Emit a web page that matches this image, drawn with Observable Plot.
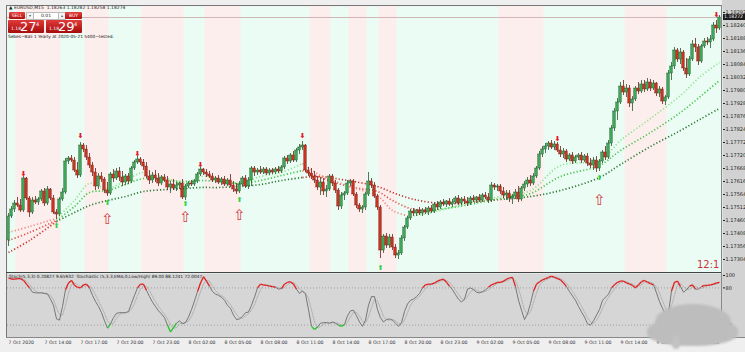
<!DOCTYPE html>
<html><head><meta charset="utf-8">
<script src="https://cdn.jsdelivr.net/npm/d3@7"></script>
<script src="https://cdn.jsdelivr.net/npm/@observablehq/plot@0.6"></script>
<style>
body{margin:0;background:#efefef;font-family:"DejaVu Sans",sans-serif;}
#wrap{position:relative;width:745px;height:352px;overflow:hidden;background:#efefef;}
.abs{position:absolute;}
.btn{position:absolute;background:linear-gradient(#e84040,#b01010);color:#fff;font-size:4.5px;line-height:7px;text-align:center;border-radius:1px;}
.sm{position:absolute;background:#f4f4f4;border:0.5px solid #bbb;color:#555;font-size:4px;line-height:6px;text-align:center;}
.lot{position:absolute;background:#fff;border:0.5px solid #bbb;color:#222;font-size:4.5px;line-height:6px;text-align:center;}
.big{position:absolute;background:linear-gradient(#e23a3a,#a50c0c);color:#fff;border-radius:1px;white-space:nowrap;}
.big .s{position:absolute;left:3px;bottom:2px;font-size:4.5px;}
.big .b{position:absolute;left:12px;top:0px;font-size:13px;line-height:13px;}
.big .u{position:absolute;left:28px;top:1px;font-size:5px;}
</style></head>
<body><div id="wrap">
<div class="abs" style="left:722px;top:0;width:23px;height:337px;background:#d2d2d2;"></div>
<div class="abs" style="left:7px;top:273px;width:715px;height:64px;background:#d6d6d6;"></div>
<div class="abs" id="mainHolder" style="left:0;top:0;"></div>
<div class="abs" id="lowHolder" style="left:0;top:273px;"></div>
<div class="abs" style="left:6px;top:5px;width:716px;height:1px;background:#777;"></div>
<div class="abs" style="left:6px;top:5px;width:1px;height:332px;background:#777;"></div>
<div class="abs" style="left:6px;top:272px;width:716px;height:1px;background:#444;"></div>
<div class="abs" style="left:6px;top:337px;width:739px;height:1px;background:#888;"></div>
<div class="abs" style="left:721px;top:5px;width:1px;height:332px;background:#888;"></div>
<div class="abs" style="left:9px;top:5px;font-size:4.5px;color:#222;white-space:nowrap;">▲ EURUSD,M15&nbsp; 1.18263 1.18282 1.18258 1.18274</div>
<div class="btn" style="left:9px;top:12px;width:16px;height:7px;">SELL</div>
<div class="sm" style="left:26px;top:12px;width:6px;height:6px;">▾</div>
<div class="lot" style="left:33px;top:12px;width:24px;height:6px;">0.01</div>
<div class="sm" style="left:58px;top:12px;width:6px;height:6px;">▴</div>
<div class="btn" style="left:65px;top:12px;width:17px;height:7px;">BUY</div>
<div class="big" style="left:8px;top:20px;width:36px;height:13px;"><span class="s">1.18</span><span class="b">27</span><span class="u">4</span></div>
<div class="big" style="left:46px;top:20px;width:36px;height:13px;"><span class="s">1.18</span><span class="b">29</span><span class="u">4</span></div>
<div class="abs" style="left:8px;top:34px;font-size:4.3px;color:#111;white-space:nowrap;">Sebes~Bali 1 Yearly at 2020-05-21 5400~tested.</div>
<div class="abs" style="left:9px;top:274px;font-size:4.3px;color:#222;white-space:nowrap;">Stoch(5,3,3) 0.20827 9.65932&nbsp; Stochastic (5,3,3,EMA,0,Low/High) 89.00 88.1241 72.0047</div>
<div class="abs" style="left:697px;top:259px;font-size:10px;color:#c8343a;">12:1</div>
<div class="abs" style="left:655px;top:304px;width:76px;height:36px;border-radius:50%;background:#bdbdbd;filter:blur(1px);"></div>
<div class="abs" style="left:647px;top:318px;width:91px;height:28px;border-radius:45%;background:#bdbdbd;filter:blur(1px);"></div>
<div class="abs" style="left:672px;top:335px;width:8px;height:14px;border-radius:40%;background:#c2c2c2;filter:blur(1px);"></div>
</div>
<script>
const opens = [
1.17380,1.17476,1.17504,1.17528,1.17520,1.17500,1.17628,1.17548,1.17492,1.17540,
1.17532,1.17544,1.17576,1.17528,1.17584,1.17548,1.17492,1.17484,1.17544,1.17572,
1.17696,1.17708,1.17700,1.17660,1.17640,1.17760,1.17744,1.17712,1.17680,1.17652,
1.17596,1.17636,1.17624,1.17580,1.17568,1.17644,1.17628,1.17656,1.17632,1.17612,
1.17636,1.17616,1.17668,1.17692,1.17704,1.17692,1.17676,1.17636,1.17620,1.17640,
1.17628,1.17608,1.17632,1.17620,1.17592,1.17604,1.17588,1.17600,1.17608,1.17552,
1.17596,1.17608,1.17604,1.17616,1.17644,1.17664,1.17652,1.17644,1.17636,1.17620,
1.17628,1.17612,1.17624,1.17604,1.17620,1.17600,1.17584,1.17576,1.17604,1.17628,
1.17596,1.17620,1.17668,1.17652,1.17660,1.17652,1.17664,1.17648,1.17660,1.17652,
1.17664,1.17656,1.17672,1.17708,1.17696,1.17720,1.17700,1.17740,1.17752,1.17760,
1.17660,1.17648,1.17636,1.17620,1.17592,1.17612,1.17576,1.17584,1.17636,1.17608,
1.17580,1.17516,1.17560,1.17568,1.17608,1.17616,1.17564,1.17520,1.17504,1.17512,
1.17564,1.17616,1.17600,1.17556,1.17512,1.17340,1.17396,1.17360,1.17392,1.17352,
1.17320,1.17328,1.17388,1.17432,1.17468,1.17496,1.17488,1.17500,1.17488,1.17500,
1.17492,1.17508,1.17496,1.17524,1.17512,1.17532,1.17524,1.17536,1.17524,1.17532,
1.17548,1.17528,1.17544,1.17536,1.17528,1.17548,1.17540,1.17552,1.17540,1.17560,
1.17552,1.17540,1.17600,1.17592,1.17596,1.17576,1.17560,1.17568,1.17548,1.17556,
1.17572,1.17544,1.17588,1.17604,1.17620,1.17608,1.17636,1.17668,1.17724,1.17744,
1.17756,1.17768,1.17752,1.17764,1.17740,1.17724,1.17736,1.17704,1.17720,1.17696,
1.17712,1.17720,1.17700,1.17716,1.17688,1.17680,1.17700,1.17668,1.17696,1.17732,
1.17712,1.17768,1.17828,1.17896,1.17932,1.17996,1.17972,1.17988,1.17928,1.17944,
1.17988,1.17976,1.18004,1.17984,1.18012,1.17988,1.18008,1.17968,1.17984,1.17936,
1.17952,1.18048,1.18076,1.18140,1.18104,1.18132,1.18068,1.18044,1.18104,1.18164,
1.18152,1.18096,1.18156,1.18176,1.18172,1.18184,1.18240,1.18228];
const highs = [
1.17488,1.17516,1.17540,1.17552,1.17544,1.17636,1.17632,1.17556,1.17552,1.17556,
1.17552,1.17584,1.17588,1.17596,1.17588,1.17560,1.17504,1.17552,1.17588,1.17708,
1.17716,1.17720,1.17712,1.17692,1.17772,1.17768,1.17760,1.17728,1.17692,1.17668,
1.17648,1.17652,1.17632,1.17612,1.17652,1.17664,1.17668,1.17672,1.17656,1.17644,
1.17648,1.17676,1.17700,1.17716,1.17712,1.17704,1.17692,1.17660,1.17652,1.17660,
1.17648,1.17640,1.17644,1.17636,1.17616,1.17624,1.17612,1.17612,1.17624,1.17604,
1.17616,1.17620,1.17624,1.17652,1.17672,1.17668,1.17664,1.17656,1.17648,1.17636,
1.17640,1.17632,1.17636,1.17628,1.17644,1.17616,1.17608,1.17616,1.17636,1.17640,
1.17632,1.17676,1.17676,1.17668,1.17676,1.17672,1.17672,1.17668,1.17668,1.17672,
1.17676,1.17680,1.17716,1.17720,1.17728,1.17736,1.17748,1.17764,1.17776,1.17764,
1.17672,1.17668,1.17656,1.17636,1.17632,1.17628,1.17600,1.17644,1.17644,1.17620,
1.17588,1.17572,1.17576,1.17620,1.17624,1.17624,1.17572,1.17528,1.17520,1.17572,
1.17652,1.17628,1.17612,1.17564,1.17520,1.17404,1.17408,1.17404,1.17404,1.17364,
1.17340,1.17400,1.17440,1.17476,1.17504,1.17508,1.17504,1.17512,1.17508,1.17512,
1.17516,1.17520,1.17532,1.17536,1.17540,1.17544,1.17540,1.17548,1.17544,1.17556,
1.17560,1.17552,1.17556,1.17552,1.17556,1.17560,1.17556,1.17564,1.17568,1.17572,
1.17568,1.17612,1.17608,1.17604,1.17604,1.17592,1.17580,1.17580,1.17564,1.17584,
1.17596,1.17596,1.17616,1.17632,1.17640,1.17648,1.17676,1.17736,1.17756,1.17768,
1.17776,1.17780,1.17776,1.17772,1.17756,1.17748,1.17744,1.17728,1.17732,1.17720,
1.17728,1.17732,1.17724,1.17728,1.17708,1.17712,1.17716,1.17704,1.17740,1.17756,
1.17780,1.17840,1.17908,1.17948,1.18012,1.18020,1.18004,1.18000,1.17956,1.17996,
1.18012,1.18020,1.18020,1.18028,1.18024,1.18020,1.18012,1.17996,1.17992,1.17960,
1.18060,1.18092,1.18152,1.18148,1.18148,1.18140,1.18108,1.18116,1.18180,1.18188,
1.18164,1.18164,1.18188,1.18192,1.18200,1.18252,1.18260,1.18280];
const lows = [
1.17356,1.17468,1.17492,1.17512,1.17492,1.17492,1.17540,1.17472,1.17484,1.17524,
1.17520,1.17536,1.17516,1.17520,1.17540,1.17484,1.17464,1.17476,1.17536,1.17564,
1.17684,1.17692,1.17652,1.17628,1.17632,1.17732,1.17700,1.17668,1.17636,1.17580,
1.17584,1.17612,1.17568,1.17556,1.17560,1.17612,1.17620,1.17616,1.17596,1.17600,
1.17604,1.17608,1.17660,1.17684,1.17680,1.17660,1.17628,1.17604,1.17608,1.17612,
1.17596,1.17600,1.17612,1.17580,1.17568,1.17580,1.17576,1.17584,1.17544,1.17540,
1.17588,1.17596,1.17596,1.17608,1.17636,1.17640,1.17632,1.17628,1.17612,1.17608,
1.17604,1.17600,1.17596,1.17596,1.17592,1.17572,1.17564,1.17568,1.17596,1.17588,
1.17584,1.17596,1.17636,1.17640,1.17644,1.17644,1.17640,1.17640,1.17644,1.17644,
1.17648,1.17648,1.17664,1.17684,1.17688,1.17692,1.17692,1.17724,1.17740,1.17652,
1.17636,1.17624,1.17608,1.17580,1.17560,1.17560,1.17552,1.17576,1.17596,1.17568,
1.17500,1.17504,1.17540,1.17560,1.17596,1.17556,1.17508,1.17492,1.17488,1.17500,
1.17556,1.17588,1.17548,1.17500,1.17308,1.17328,1.17348,1.17348,1.17340,1.17308,
1.17304,1.17320,1.17376,1.17424,1.17460,1.17476,1.17476,1.17480,1.17476,1.17484,
1.17480,1.17488,1.17488,1.17500,1.17504,1.17516,1.17512,1.17516,1.17512,1.17524,
1.17520,1.17520,1.17524,1.17516,1.17520,1.17532,1.17528,1.17532,1.17532,1.17544,
1.17528,1.17532,1.17580,1.17576,1.17564,1.17548,1.17540,1.17532,1.17524,1.17544,
1.17532,1.17536,1.17576,1.17592,1.17596,1.17600,1.17628,1.17660,1.17712,1.17728,
1.17740,1.17744,1.17740,1.17732,1.17712,1.17708,1.17692,1.17696,1.17684,1.17688,
1.17700,1.17688,1.17692,1.17676,1.17668,1.17660,1.17652,1.17656,1.17688,1.17700,
1.17704,1.17756,1.17816,1.17860,1.17924,1.17960,1.17952,1.17912,1.17896,1.17936,
1.17964,1.17968,1.17972,1.17976,1.17976,1.17980,1.17956,1.17952,1.17924,1.17920,
1.17944,1.18020,1.18064,1.18092,1.18084,1.18056,1.18028,1.18036,1.18096,1.18132,
1.18080,1.18088,1.18148,1.18160,1.18148,1.18176,1.18208,1.18220];
const closes = [
1.17476,1.17504,1.17528,1.17520,1.17500,1.17628,1.17548,1.17492,1.17540,1.17532,
1.17544,1.17576,1.17528,1.17584,1.17548,1.17492,1.17484,1.17544,1.17572,1.17696,
1.17708,1.17700,1.17660,1.17640,1.17760,1.17744,1.17712,1.17680,1.17652,1.17596,
1.17636,1.17624,1.17580,1.17568,1.17644,1.17628,1.17656,1.17632,1.17612,1.17636,
1.17616,1.17668,1.17692,1.17704,1.17692,1.17676,1.17636,1.17620,1.17640,1.17628,
1.17608,1.17632,1.17620,1.17592,1.17604,1.17588,1.17600,1.17608,1.17552,1.17596,
1.17608,1.17604,1.17616,1.17644,1.17664,1.17652,1.17644,1.17636,1.17620,1.17628,
1.17612,1.17624,1.17604,1.17620,1.17600,1.17584,1.17576,1.17604,1.17628,1.17596,
1.17620,1.17668,1.17652,1.17660,1.17652,1.17664,1.17648,1.17660,1.17652,1.17664,
1.17656,1.17672,1.17708,1.17696,1.17720,1.17700,1.17740,1.17752,1.17760,1.17660,
1.17648,1.17636,1.17620,1.17592,1.17612,1.17576,1.17584,1.17636,1.17608,1.17580,
1.17516,1.17560,1.17568,1.17608,1.17616,1.17564,1.17520,1.17504,1.17512,1.17564,
1.17616,1.17600,1.17556,1.17512,1.17340,1.17396,1.17360,1.17392,1.17352,1.17320,
1.17328,1.17388,1.17432,1.17468,1.17496,1.17488,1.17500,1.17488,1.17500,1.17492,
1.17508,1.17496,1.17524,1.17512,1.17532,1.17524,1.17536,1.17524,1.17532,1.17548,
1.17528,1.17544,1.17536,1.17528,1.17548,1.17540,1.17552,1.17540,1.17560,1.17552,
1.17540,1.17600,1.17592,1.17596,1.17576,1.17560,1.17568,1.17548,1.17556,1.17572,
1.17544,1.17588,1.17604,1.17620,1.17608,1.17636,1.17668,1.17724,1.17744,1.17756,
1.17768,1.17752,1.17764,1.17740,1.17724,1.17736,1.17704,1.17720,1.17696,1.17712,
1.17720,1.17700,1.17716,1.17688,1.17680,1.17700,1.17668,1.17696,1.17732,1.17712,
1.17768,1.17828,1.17896,1.17932,1.17996,1.17972,1.17988,1.17928,1.17944,1.17988,
1.17976,1.18004,1.17984,1.18012,1.17988,1.18008,1.17968,1.17984,1.17936,1.17952,
1.18048,1.18076,1.18140,1.18104,1.18132,1.18068,1.18044,1.18104,1.18164,1.18152,
1.18096,1.18156,1.18176,1.18172,1.18184,1.18240,1.18228,1.18272];

// moving averages read at sample bars
const maIdx = [0,7,16,22,27,33,39,45,53,59,64,70,77,84,91,98,104,111,117,123,128,134,141,150,157,164,174,184,197,204,214,224,231,237];
const maFast = [1.17412,1.17436,1.17468,1.17540,1.17608,1.17588,1.17620,1.17652,1.17628,1.17608,1.17636,1.17628,1.17608,1.17636,1.17652,1.17688,1.17640,1.17608,1.17584,1.17560,1.17500,1.17476,1.17492,1.17520,1.17540,1.17556,1.17580,1.17680,1.17700,1.17780,1.17868,1.17960,1.18040,1.18092];
const maMid = [1.17380,1.17412,1.17460,1.17516,1.17572,1.17580,1.17604,1.17628,1.17620,1.17616,1.17620,1.17616,1.17608,1.17620,1.17640,1.17660,1.17632,1.17604,1.17588,1.17576,1.17540,1.17508,1.17500,1.17516,1.17532,1.17548,1.17568,1.17636,1.17680,1.17740,1.17812,1.17892,1.17960,1.18020];
const maSlow = [1.17332,1.17380,1.17456,1.17492,1.17520,1.17540,1.17556,1.17576,1.17584,1.17588,1.17592,1.17592,1.17596,1.17604,1.17620,1.17632,1.17636,1.17624,1.17612,1.17596,1.17572,1.17548,1.17532,1.17528,1.17536,1.17544,1.17556,1.17580,1.17632,1.17684,1.17756,1.17820,1.17868,1.17908];
const fastRed = [[0,16],[99,137]];
const midRed = [[0,16],[101,144]];
const slowRed = [[0,16],[102,164]];

// session shading (bar index ranges)
const pinkStart = [3,26,45,66,101,114,124,164,206];
const pinkEnd = [17,33,58,77,107,119,129,178,219];

// signals
const sellIdx = [5,24,43,64,98,183,236];
const sellPrice = [1.17648,1.17800,1.17728,1.17684,1.17800,1.17788,1.18284];
const buyIdx = [16,33,59,77,124,197];
const buyPrice = [1.17440,1.17532,1.17528,1.17544,1.17272,1.17632];
const hollowIdx = [33,59,77,197];
const hollowPrice = [1.17464,1.17472,1.17480,1.17540];

// stochastic
const osc = [
96,94,94,95,95,92,86,80,73,72, 72,72,71,70,62,52,30,28,50,77,
88,92,84,81,80,85,86,80,68,58, 50,40,27,15,22,32,39,40,40,40,
42,55,68,80,86,86,76,66,57,50, 43,38,32,20,9,16,23,27,22,24,
33,45,59,74,88,98,91,83,74,70, 68,65,60,52,47,36,29,30,34,40,
41,52,65,80,86,85,84,83,82,81, 78,79,86,89,90,86,78,71,75,70,
45,18,13,17,23,24,24,23,25,23, 20,18,21,35,43,44,35,25,18,28,
52,66,66,45,32,25,29,30,28,23, 18,24,42,54,60,62,66,71,80,85,
86,86,88,91,93,94,89,83,77,69, 62,57,62,78,80,77,73,72,74,77,
81,85,87,89,89,91,94,96,97,82, 60,44,29,38,55,75,86,90,93,95,
97,99,97,95,93,88,82,74,67,60, 50,41,33,22,20,27,36,45,60,65,
70,80,85,89,91,91,88,86,84,80, 85,90,92,89,87,85,72,58,47,38,
40,75,89,91,82,73,77,83,85,78, 78,82,84,84,85,86,88,89];

const priceTicks = [1.18292,1.18240,1.18188,1.18136,1.18084,1.18032,1.17980,1.17928,1.17876,1.17824,1.17772,1.17720,1.17668,1.17616,1.17564,1.17512,1.17460,1.17408,1.17356,1.17304];
const oscTicks = [0,20,80,100];
const timeIdx = [0,12,24,36,48,60,72,84,96,108,120,132,144,156,168,180,192,204,216,228];
const timeLabels = ["7 Oct 2020","7 Oct 14:00","7 Oct 17:00","7 Oct 20:00","7 Oct 23:00","8 Oct 02:00","8 Oct 05:00","8 Oct 08:00","8 Oct 11:00","8 Oct 14:00","8 Oct 17:00","8 Oct 20:00","8 Oct 23:00","9 Oct 02:00","9 Oct 05:00","9 Oct 08:00","9 Oct 11:00","9 Oct 14:00","9 Oct 17:00","9 Oct 20:00"];

const MINT = "#ebfcf5", PINK = "#fdeeee";
const candles = opens.map((o, i) => ({i, o, h: highs[i], l: lows[i], c: closes[i]}));
const bands = pinkStart.map((s, k) => ({s, e: pinkEnd[k]}));

function maRows(vals, red, cols, name) {
  const rows = []; let seg = 0, prev = null;
  maIdx.forEach((ix, k) => {
    const isRed = red.some(([a, b]) => ix >= a && ix <= b);
    const col = isRed ? cols[1] : cols[0];
    if (prev && col !== prev.col) { seg++; rows.push({i: prev.i, p: prev.p, seg: name + seg, col}); }
    const r = {i: ix, p: vals[k], seg: name + seg, col};
    rows.push(r); prev = r;
  });
  return rows;
}
const maAll = [
  ...maRows(maSlow, slowRed, ["#2f7a36", "#c8322e"], "s"),
  ...maRows(maMid, midRed, ["#44c54c", "#e2504a"], "m"),
  ...maRows(maFast, fastRed, ["#8fe68f", "#f08a84"], "f")
];
const pts = (idx, pr) => idx.map((ix, k) => ({i: ix, p: pr[k]}));

const main = Plot.plot({
  width: 745, height: 273,
  marginLeft: 7, marginRight: 23, marginTop: 6, marginBottom: 0,
  style: {background: "transparent", fontSize: "5px", fontFamily: "DejaVu Sans, sans-serif", color: "#222", overflow: "visible"},
  x: {domain: [-1/3, 238], axis: null},
  y: {domain: [1.17248, 1.18316], axis: "right", ticks: priceTicks, tickFormat: d => d.toFixed(5), tickSize: 2, tickPadding: 1, label: null},
  color: {type: "identity"},
  marks: [
    Plot.frame({fill: MINT, stroke: null}),
    Plot.rect(bands, {x1: d => d.s - 0.5, x2: d => d.e + 0.5, fill: PINK}),
    Plot.ruleY([closes[closes.length - 1]], {stroke: "#c9a6a6", strokeWidth: 0.8}),
    Plot.line(maAll, {x: "i", y: "p", z: "seg", stroke: "col", strokeWidth: 1.7, strokeDasharray: "1.2 2.1", strokeLinecap: "butt", curve: "catmull-rom"}),
    Plot.ruleX(candles, {x: "i", y1: "l", y2: "h", stroke: d => d.c >= d.o ? "#24572c" : "#6e1e14", strokeWidth: 0.8}),
    Plot.rect(candles, {x1: d => d.i - 0.42, x2: d => d.i + 0.42, y1: "o", y2: "c", fill: d => d.c >= d.o ? "#3aa857" : "#c8321e", stroke: d => d.c >= d.o ? "#1d4d25" : "#6e1e14", strokeWidth: 0.4}),
    Plot.text(pts(sellIdx, sellPrice), {x: "i", y: "p", text: d => "⬇", fill: "#e8122a", fontSize: 7, fontWeight: "bold"}),
    Plot.text(pts(buyIdx, buyPrice), {x: "i", y: "p", text: d => "⬆", fill: "#2fd24a", fontSize: 7, fontWeight: "bold"}),
    Plot.text(pts(hollowIdx, hollowPrice), {x: "i", y: "p", text: d => "⇧", fill: "#d03c3c", fontSize: 15})
  ]
});
document.getElementById("mainHolder").appendChild(main);

const oscRows = osc.map((v, i) => ({i, v}));
const segs = osc.slice(0, -1).map((v, i) => {
  const m = (v + osc[i + 1]) / 2;
  return {x1: i, y1: v, x2: i + 1, y2: osc[i + 1], c: m > 80 ? "#e01e1e" : m < 20 ? "#22c22a" : "#6c6c6c", w: (m > 80 || m < 20) ? 1.3 : 0.9};
});

const low = Plot.plot({
  width: 745, height: 79,
  marginLeft: 7, marginRight: 23, marginTop: 2, marginBottom: 15,
  style: {background: "transparent", fontSize: "5px", fontFamily: "DejaVu Sans, sans-serif", color: "#222", overflow: "visible"},
  x: {domain: [-1/3, 238], axis: null},
  y: {domain: [0, 100], axis: "right", ticks: oscTicks, tickSize: 2, tickPadding: 1, label: null},
  color: {type: "identity"},
  marks: [
    Plot.ruleY([20, 80], {stroke: "#8a8a8a", strokeWidth: 0.7, strokeDasharray: "1 2"}),
    Plot.line(oscRows, Plot.windowY({k: 3, anchor: "end"}, {x: "i", y: "v", stroke: "#a4a4a4", strokeWidth: 0.8, strokeDasharray: "1.5 1.2"})),
    Plot.link(segs, {x1: "x1", y1: "y1", x2: "x2", y2: "y2", stroke: "c", strokeWidth: "w"}),
    Plot.text(timeIdx, {x: d => d, text: (d, k) => timeLabels[k], frameAnchor: "bottom", dy: 6, textAnchor: "start", fontSize: 4.6, fill: "#333"})
  ]
});
document.getElementById("lowHolder").appendChild(low);

// current price marker on the price axis
const yMain = main.scale("y");
const lp = document.createElement("div");
lp.className = "abs";
lp.style.cssText = `left:723px;top:${yMain.apply(closes[closes.length - 1]) - 3}px;width:22px;height:6px;background:#1c1c1c;color:#fff;font-size:4.6px;line-height:6px;text-align:left;padding-left:1px;`;
lp.textContent = closes[closes.length - 1].toFixed(5);
document.getElementById("wrap").appendChild(lp);
</script>
</body></html>
